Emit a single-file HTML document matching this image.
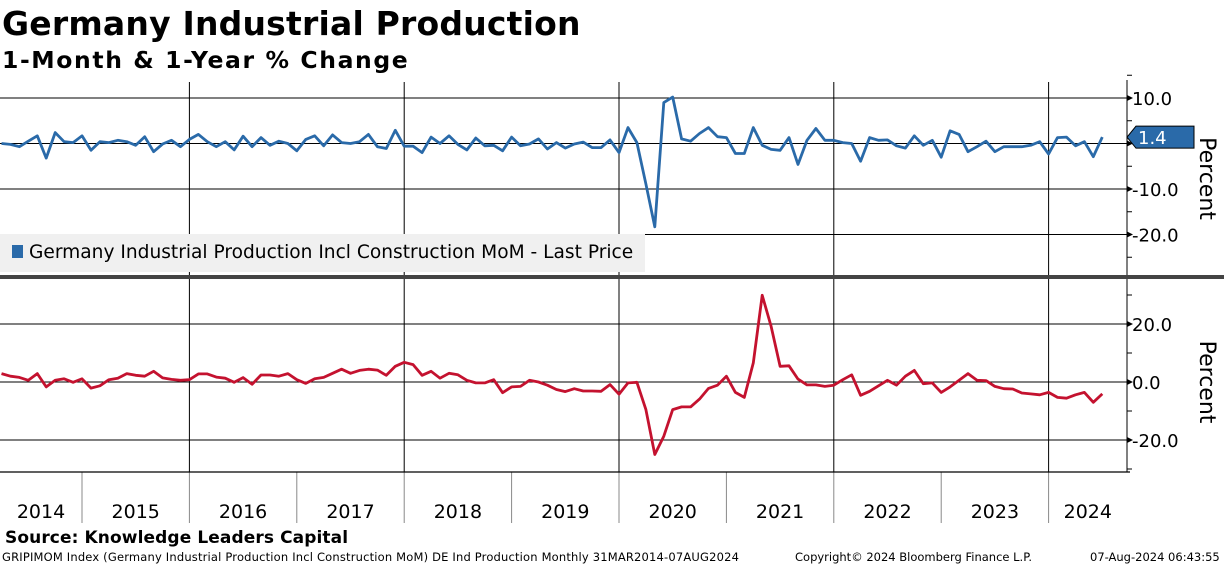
<!DOCTYPE html>
<html><head><meta charset="utf-8"><style>
body{margin:0;background:#fff;width:1224px;height:566px;overflow:hidden;font-family:"DejaVu Sans","Liberation Sans",sans-serif}
</style></head><body>
<svg width="1224" height="566" xmlns="http://www.w3.org/2000/svg" font-family="DejaVu Sans, Liberation Sans, sans-serif">
<text x="2" y="35" font-size="33" font-weight="bold" letter-spacing="0.2">Germany Industrial Production</text>
<text x="2" y="68" font-size="23.5" font-weight="bold" letter-spacing="1.6">1-Month &amp; 1-Year % Change</text>
<g id="grid"></g>
<rect x="0" y="234" width="645" height="38" fill="#f0f0f0"/>
<rect x="12" y="245" width="11" height="13" fill="#2a6aa9"/>
<text x="29" y="258" font-size="18.6">Germany Industrial Production Incl Construction MoM - Last Price</text>
<rect x="0" y="275" width="1224" height="4" fill="#444"/>
<g id="lines"></g>
<g id="axes"></g>
<text x="5" y="543" font-size="17" font-weight="bold" letter-spacing="0.1">Source: Knowledge Leaders Capital</text>
<text x="2" y="561" font-size="11.5" letter-spacing="0.18">GRIPIMOM Index (Germany Industrial Production Incl Construction MoM) DE Ind Production  Monthly 31MAR2014-07AUG2024</text>
<text x="795" y="561" font-size="11.5">Copyright© 2024 Bloomberg Finance L.P.</text>
<text x="1090" y="561" font-size="11.5">07-Aug-2024 06:43:55</text>
</svg>
<script>
const startMonth = 2; // Mar 2014 (months from Jan 2014)
const momValues = [0,-0.2,-0.7,0.5,1.7,-3.2,2.4,0.4,0.2,1.7,-1.5,0.4,0.2,0.7,0.4,-0.4,1.5,-1.8,-0.1,0.7,-0.7,0.9,2.0,0.4,-0.7,0.4,-1.4,1.6,-0.7,1.3,-0.4,0.5,0,-1.6,0.9,1.7,-0.5,1.9,0.2,0,0.4,2.0,-0.7,-1.1,2.9,-0.6,-0.6,-2.0,1.4,0,1.7,-0.2,-1.4,1.2,-0.5,-0.4,-1.6,1.4,-0.5,-0.1,1.0,-1.2,0.2,-1.0,-0.1,0.3,-0.9,-0.9,0.8,-2.0,3.5,0.2,-8.9,-18.3,9.0,10.2,1.0,0.5,2.2,3.5,1.5,1.3,-2.2,-2.2,3.5,-0.4,-1.3,-1.5,1.3,-4.6,0.7,3.3,0.7,0.7,0.2,0,-3.9,1.3,0.7,0.8,-0.5,-1.0,1.7,-0.4,0.7,-3.0,2.8,2.0,-1.8,-0.7,0.5,-1.8,-0.7,-0.7,-0.7,-0.4,0.4,-2.3,1.3,1.4,-0.5,0.4,-2.9,1.4];
const yoyValues = [2.9,2.0,1.6,0.6,2.9,-1.7,0.6,1.1,-0.1,1.1,-2.1,-1.3,0.8,1.3,2.9,2.3,2.0,3.7,1.4,0.9,0.6,0.8,2.8,2.8,1.7,1.3,-0.1,1.5,-0.8,2.4,2.4,2.0,2.9,0.8,-0.5,1.1,1.6,3.0,4.4,3.0,4.0,4.4,4.1,2.3,5.4,6.8,6.0,2.3,3.7,1.3,3.0,2.5,0.6,-0.3,-0.3,0.8,-3.7,-1.7,-1.5,0.6,0,-1.1,-2.6,-3.3,-2.3,-3.1,-3.1,-3.2,-0.9,-4.2,-0.3,-0.1,-9.5,-25,-18.7,-9.5,-8.6,-8.6,-5.9,-2.2,-1.1,2.0,-3.6,-5.3,6.6,29.9,19.2,5.4,5.6,1.0,-1.0,-1.0,-1.5,-1.1,0.8,2.5,-4.6,-3.2,-1.3,0.6,-1.1,2.0,4.0,-0.6,-0.3,-3.6,-1.7,0.6,2.9,0.6,0.5,-1.5,-2.3,-2.4,-3.8,-4.1,-4.4,-3.6,-5.3,-5.6,-4.4,-3.6,-7.0,-4.1];
const years = ["2014","2015","2016","2017","2018","2019","2020","2021","2022","2023","2024"];
const topTicks = [10,0,-10,-20];
const botTicks = [20,0,-20];
const lastLabel = "1.4";

const NS="http://www.w3.org/2000/svg";
const R=1127;
const xM = m => 619 + (m-72)*8.95;
const yTop = v => 143.5 - v*4.55;
const yBot = v => 382 - v*2.9;
function mk(tag,attrs,parent){const e=document.createElementNS(NS,tag);for(const k in attrs)e.setAttribute(k,attrs[k]);parent.appendChild(e);return e;}
const grid=document.getElementById('grid'), lines=document.getElementById('lines'), axes=document.getElementById('axes');

years.forEach((y,i)=>{
  const x=xM(i*12);
  if(i>0){
    const s=mk('line',{x1:x,x2:x,y1:472,y2:523,stroke:'#888','stroke-width':1},grid);
    
    
  }
  if(i%2===0 && i>0){
    const g=mk('line',{x1:x,x2:x,y1:82,y2:472,stroke:'#000','stroke-width':1},grid);
    
    
  }
  const cx = (Math.max(0,x)+Math.min(R,xM((i+1)*12)))/2;
  const t=mk('text',{x:cx,y:518,'font-size':19,'text-anchor':'middle'},axes);
  t.textContent=y;
  
  
});
mk('line',{x1:0,x2:R+3,y1:472,y2:472,stroke:'#000','stroke-width':1.3},grid);
mk('line',{x1:R,x2:R,y1:80,y2:275,stroke:'#000','stroke-width':1},axes);
mk('line',{x1:R,x2:R,y1:279,y2:472,stroke:'#000','stroke-width':1},axes);

topTicks.forEach(v=>{
  const y=yTop(v);
  const l=mk('line',{x1:0,x2:R,y1:y,y2:y,stroke:'#000','stroke-width':1},grid);
  
  
  mk('path',{d:`M${R} ${y-3}L${R+6} ${y}L${R} ${y+3}Z`,fill:'#000'},axes);
  if(v!==0){
    const t=mk('text',{x:R+5,y:y+7,'font-size':18},axes);
    t.textContent=(v<0?'-':'')+Math.abs(v).toFixed(1);
    
    
  }
});
[15,5,-5,-15,-25].forEach(v=>mk('line',{x1:R,x2:R+5,y1:yTop(v),y2:yTop(v),stroke:'#000'},axes));
botTicks.forEach(v=>{
  const y=yBot(v);
  const l=mk('line',{x1:0,x2:R,y1:y,y2:y,stroke:'#000','stroke-width':1},grid);
  
  
  mk('path',{d:`M${R} ${y-3}L${R+6} ${y}L${R} ${y+3}Z`,fill:'#000'},axes);
  const t=mk('text',{x:R+5,y:y+7,'font-size':18},axes);
  t.textContent=(v<0?'-':'')+Math.abs(v).toFixed(1);
  
  
});
[30,10,-10,-30].forEach(v=>mk('line',{x1:R,x2:R+5,y1:yBot(v),y2:yBot(v),stroke:'#000'},axes));

function poly(vals,yf){
  return vals.map((v,i)=>`${xM(startMonth+i+1).toFixed(1)},${yf(v).toFixed(1)}`).join(' ');
}
const p1=mk('polyline',{points:poly(momValues,yTop),fill:'none',stroke:'#2a6aa9','stroke-width':2.8,'stroke-linejoin':'round'},lines);


const p2=mk('polyline',{points:poly(yoyValues,yBot),fill:'none',stroke:'#c4122f','stroke-width':2.8,'stroke-linejoin':'round'},lines);



const lv=momValues[momValues.length-1], ly=yTop(lv);
const tag=mk('path',{d:`M${R} ${ly}L${R+9} ${ly-11}H1194V${ly+11}H${R+9}Z`,fill:'#2a6aa9',stroke:'#000','stroke-width':1},axes);


const tt=mk('text',{x:1138,y:ly+7,'font-size':18,fill:'#fff'},axes);
tt.textContent=lastLabel;



[[yTop(0)+35,'top-y-axis-title'],[yBot(0),'bottom-y-axis-title']].forEach(([cy,n])=>{
  const t=mk('text',{x:0,y:0,'font-size':22,'text-anchor':'middle',transform:`translate(1200 ${cy}) rotate(90)`},axes);
  t.textContent='Percent';
  
  
});
</script>
</body></html>
